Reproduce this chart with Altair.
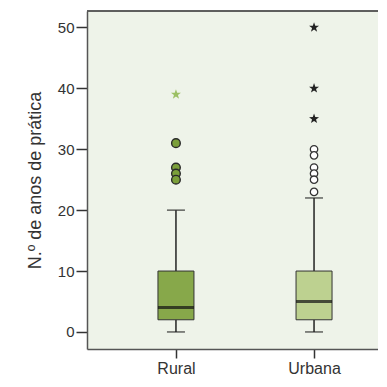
import altair as alt
import pandas as pd

# ---- data ----
categories = ["Rural", "Urbana"]
whisker_low = [0, 0]
q1 = [2, 2]
median = [4, 5]
q3 = [10, 10]
whisker_high = [20, 22]
# mild outliers (circles) and extreme outliers (stars)
rural_circles = [31, 27, 26, 25]
rural_stars = [39]
urbana_circles = [30, 29, 27, 26, 25, 23]
urbana_stars = [50, 40, 35]
y_ticks = [0, 10, 20, 30, 40, 50]

box_fill = ["#87a84a", "#bdd190"]

W, H = 291, 338

stats = pd.DataFrame({
    "cat": categories,
    "idx": list(range(len(categories))),
    "lo": whisker_low, "q1": q1, "med": median, "q3": q3, "hi": whisker_high,
    "fill": box_fill,
})

circ_rows = [{"idx": 0, "v": v} for v in rural_circles]
circ_u = [{"idx": 1, "v": v} for v in urbana_circles]
star_r = [{"idx": 0, "v": v} for v in rural_stars]
star_u = [{"idx": 1, "v": v} for v in urbana_stars]

label_expr = "datum.value == 0 ? '%s' : '%s'" % (categories[0], categories[1])

xs = alt.Scale(domain=[-0.608, 1.427], nice=False, zero=False)
ys = alt.Scale(domain=[-2.8, 52.7], nice=False, zero=False)

X = alt.X("idx:Q", scale=xs, title=None,
          axis=alt.Axis(values=[0, 1], labelExpr=label_expr, grid=False,
                        tickSize=9, tickWidth=1.5, tickColor="#333333",
                        domainColor="#555555", domainWidth=1.5,
                        labelFontSize=16, labelColor="#333333", labelPadding=2,
                        labelFont="Liberation Sans"))

def Y(field):
    return alt.Y(field, scale=ys, title="N.º de anos de prática",
                 axis=alt.Axis(values=y_ticks, grid=False, tickSize=11, tickWidth=1.5,
                               tickColor="#333333", domainColor="#555555", domainWidth=1.5,
                               labelFontSize=15, labelColor="#333333", labelPadding=2,
                               labelFont="Liberation Sans",
                               titleFont="Liberation Sans", titleFontSize=18,
                               titleFontWeight="normal", titleColor="#333333",
                               titleX=-52, titleY=H / 2, titleBaseline="middle",
                               titleAngle=270, titleAlign="center"))

base = alt.Chart(stats)

whisk_up = base.mark_rule(color="#222222", strokeWidth=1.5).encode(x=X, y=Y("q3:Q"), y2="hi:Q")
whisk_dn = base.mark_rule(color="#222222", strokeWidth=1.5).encode(x=X, y=Y("lo:Q"), y2="q1:Q")
caps_hi = base.mark_tick(orient="horizontal", size=18, thickness=1.5, color="#222222").encode(x=X, y=Y("hi:Q"))
caps_lo = base.mark_tick(orient="horizontal", size=18, thickness=1.5, color="#222222").encode(x=X, y=Y("lo:Q"))
box = base.mark_bar(size=36, stroke="#333333", strokeWidth=1).encode(
    x=X, y=Y("q1:Q"), y2="q3:Q", fill=alt.Fill("fill:N", scale=None))
med = base.mark_tick(orient="horizontal", size=36, thickness=3, color="#111111").encode(x=X, y=Y("med:Q"))

star_path = ("M0,-1L0.235,-0.324L0.951,-0.309L0.38,0.124L0.588,0.809L0,0.4"
             "L-0.588,0.809L-0.38,0.124L-0.951,-0.309L-0.235,-0.324Z")

c_r = alt.Chart(pd.DataFrame(circ_rows)).mark_point(
    shape="circle", size=75, filled=True, fill="#7b9f3a", stroke="#2a2a2a", strokeWidth=1.4, opacity=1
).encode(x=X, y=Y("v:Q"))
c_u = alt.Chart(pd.DataFrame(circ_u)).mark_point(
    shape="circle", size=55, filled=True, fill="#ffffff", stroke="#333333", strokeWidth=1.3, opacity=1
).encode(x=X, y=Y("v:Q"))
s_r = alt.Chart(pd.DataFrame(star_r)).mark_point(
    shape=star_path, size=110, filled=True, fill="#9cc064", strokeWidth=0, opacity=1
).encode(x=X, y=Y("v:Q"))
s_u = alt.Chart(pd.DataFrame(star_u)).mark_point(
    shape=star_path, size=110, filled=True, fill="#222222", strokeWidth=0, opacity=1
).encode(x=X, y=Y("v:Q"))

top = alt.Chart(stats).mark_rule(color="#555555", strokeWidth=1.5).encode(
    x=alt.value(0), x2=alt.value(W), y=alt.value(0))

chart = alt.layer(whisk_up, whisk_dn, caps_hi, caps_lo, box, med, c_r, c_u, s_r, s_u, top).properties(
    width=W, height=H, autosize="none",
    padding={"left": 79, "top": 3, "right": 0, "bottom": 30},
    background="#ffffff",
).configure_view(fill="#eef3e9", stroke=None)

chart.save("out.html", embed_options={"renderer": "svg", "actions": False})
